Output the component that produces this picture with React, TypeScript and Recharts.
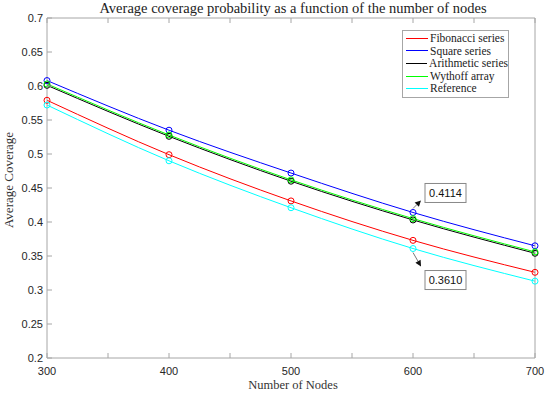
import React from 'react';
import {
  LineChart,
  Line,
  XAxis,
  YAxis,
  ReferenceDot,
} from 'recharts';

const nodes = [300, 400, 500, 600, 700];
const fibonacci = [0.579, 0.499, 0.431, 0.373, 0.326];
const square = [0.608, 0.535, 0.472, 0.414, 0.365];
const arithmetic = [0.601, 0.526, 0.46, 0.403, 0.354];
const wythoff = [0.603, 0.528, 0.462, 0.405, 0.356];
const reference = [0.572, 0.49, 0.421, 0.361, 0.313];

const xTicks = [300, 350, 400, 450, 500, 550, 600, 650, 700];
const yTicks = [0.2, 0.25, 0.3, 0.35, 0.4, 0.45, 0.5, 0.55, 0.6, 0.65, 0.7];

const series = [
  { key: 'fibonacci', name: 'Fibonacci series', color: '#ff0000', values: fibonacci },
  { key: 'square', name: 'Square series', color: '#0000ff', values: square },
  { key: 'arithmetic', name: 'Arithmetic series', color: '#000000', values: arithmetic },
  { key: 'wythoff', name: 'Wythoff array', color: '#00ff00', values: wythoff },
  { key: 'reference', name: 'Reference', color: '#00ffff', values: reference },
];

const data = nodes.map((n, i) => {
  const row: Record<string, number> = { nodes: n };
  series.forEach((s) => {
    row[s.key] = s.values[i];
  });
  return row;
});

const AXIS = '#a6a6a6';
const TICK_TEXT = '#262626';
const SANS = '"Liberation Sans", Arial, sans-serif';
const SERIF = '"Liberation Serif", "Times New Roman", serif';

const BottomTick = (props: any) => {
  const { x, y, payload } = props;
  const labelled = payload.value % 100 === 0;
  return (
    <g>
      <line x1={x} y1={y} x2={x} y2={y - 5} stroke={AXIS} />
      {labelled && (
        <text x={x} y={y + 17} textAnchor="middle" fontSize={11} fill={TICK_TEXT} fontFamily={SANS}>
          {payload.value}
        </text>
      )}
    </g>
  );
};

const TopTick = (props: any) => {
  const { x, y } = props;
  return <line x1={x} y1={y} x2={x} y2={y + 5} stroke={AXIS} />;
};

const LeftTick = (props: any) => {
  const { x, y, payload } = props;
  return (
    <g>
      <line x1={x} y1={y} x2={x + 5} y2={y} stroke={AXIS} />
      <text x={x - 4} y={y + 4} textAnchor="end" fontSize={11} fill={TICK_TEXT} fontFamily={SANS}>
        {String(payload.value)}
      </text>
    </g>
  );
};

const RightTick = (props: any) => {
  const { x, y } = props;
  return <line x1={x} y1={y} x2={x - 5} y2={y} stroke={AXIS} />;
};

// datatip-style annotations
const annotations = [
  { x: 600, y: square[3], label: '0.4114', dx: 8, dy: -12, boxDy: -29 },
  { x: 600, y: reference[3], label: '0.3610', dx: 8, dy: 18, boxDy: 22 },
];

const Annotation = (props: any) => {
  const { cx, cy, ann } = props;
  const x1 = cx;
  const y1 = cy + (ann.dy < 0 ? -4 : 4);
  const x2 = cx + ann.dx;
  const y2 = cy + ann.dy;
  const ang = Math.atan2(y2 - y1, x2 - x1);
  const hl = 6;
  const hw = 3;
  const bx = x2 - hl * Math.cos(ang);
  const by = y2 - hl * Math.sin(ang);
  const p1 = `${x2},${y2}`;
  const p2 = `${bx - hw * Math.sin(ang)},${by + hw * Math.cos(ang)}`;
  const p3 = `${bx + hw * Math.sin(ang)},${by - hw * Math.cos(ang)}`;
  const boxX = cx + 12;
  const boxY = cy + ann.boxDy;
  return (
    <g>
      <line x1={x1} y1={y1} x2={bx} y2={by} stroke="#555" strokeWidth={0.8} />
      <polygon points={`${p1} ${p2} ${p3}`} fill="#111" />
      <rect x={boxX} y={boxY} width={41} height={19} fill="#fff" stroke="#888" strokeWidth={1} />
      <text x={boxX + 20.5} y={boxY + 13.5} textAnchor="middle" fontSize={11} fill="#111" fontFamily={SANS}>
        {ann.label}
      </text>
    </g>
  );
};

const App: React.FC = () => {
  return (
    <div style={{ position: 'absolute', left: 0, top: 0, width: 550, height: 394, background: '#fff' }}>
      <LineChart
        width={550}
        height={394}
        data={data}
        margin={{ top: 17, right: 14, bottom: 0, left: 0 }}
      >
        <text x={293} y={13} textAnchor="middle" fontSize={14.5} fill="#222" fontFamily={SERIF}>
          Average coverage probability as a function of the number of nodes
        </text>
        <text x={293} y={389} textAnchor="middle" fontSize={12.5} fill="#333" fontFamily={SERIF}>
          Number of Nodes
        </text>
        <text
          x={13}
          y={180}
          textAnchor="middle"
          fontSize={13}
          fill="#333"
          fontFamily={SERIF}
          transform="rotate(-90 13 180)"
        >
          Average Coverage
        </text>
        <XAxis
          xAxisId="b"
          dataKey="nodes"
          type="number"
          domain={[300, 700]}
          ticks={xTicks}
          height={36}
          tickSize={0}
          tickMargin={0}
          tickLine={false}
          tick={<BottomTick />}
          stroke={AXIS}
          interval={0}
        />
        <XAxis
          xAxisId="t"
          orientation="top"
          dataKey="nodes"
          type="number"
          domain={[300, 700]}
          ticks={xTicks}
          height={1}
          tickSize={0}
          tickMargin={0}
          tickLine={false}
          tick={<TopTick />}
          stroke={AXIS}
          interval={0}
        />
        <YAxis
          yAxisId="l"
          type="number"
          domain={[0.2, 0.7]}
          ticks={yTicks}
          width={47}
          tickSize={0}
          tickMargin={0}
          tickLine={false}
          tick={<LeftTick />}
          stroke={AXIS}
          interval={0}
        />
        <YAxis
          yAxisId="r"
          orientation="right"
          type="number"
          domain={[0.2, 0.7]}
          ticks={yTicks}
          width={1}
          tickSize={0}
          tickMargin={0}
          tickLine={false}
          tick={<RightTick />}
          stroke={AXIS}
          interval={0}
        />
        {series.map((s) => (
          <Line
            key={s.key}
            xAxisId="b"
            yAxisId="l"
            type="monotone"
            dataKey={s.key}
            name={s.name}
            stroke={s.color}
            strokeWidth={1}
            dot={{ r: 3, fill: 'none', stroke: s.color, strokeWidth: 1 }}
            isAnimationActive={false}
          />
        ))}
        {annotations.map((a) => (
          <ReferenceDot
            key={a.label}
            xAxisId="b"
            yAxisId="l"
            x={a.x}
            y={a.y}
            shape={(p: any) => <Annotation {...p} ann={a} />}
          />
        ))}
      </LineChart>
      <div
        style={{
          position: 'absolute',
          left: 402,
          top: 30,
          width: 105,
          border: '1px solid #a6a6a6',
          background: '#fff',
          padding: '1px 0 2px 0',
          fontFamily: SERIF,
          fontSize: 11.5,
          color: '#222',
          lineHeight: '12.6px',
        }}
      >
        {series.map((s) => (
          <div key={s.key} style={{ display: 'flex', alignItems: 'center', whiteSpace: 'nowrap' }}>
            <span style={{ display: 'inline-block', width: 22, height: 1, background: s.color, margin: '0 2px 0 3px' }} />
            <span>{s.name}</span>
          </div>
        ))}
      </div>
    </div>
  );
};

export default App;
